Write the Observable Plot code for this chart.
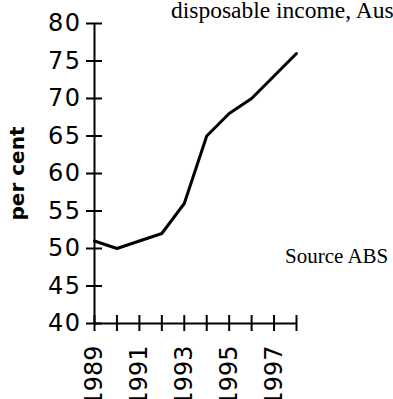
<!DOCTYPE html>
<html>
<head>
<meta charset="utf-8">
<script src="https://cdn.jsdelivr.net/npm/d3@7"></script>
<script src="https://cdn.jsdelivr.net/npm/@observablehq/plot@0.6"></script>
<style>
  html, body { margin: 0; padding: 0; background: #fff; overflow: hidden; width: 393px; height: 399px; }
  #wrap { position: relative; width: 393px; height: 399px; overflow: hidden; }
  #title { position: absolute; left: 171px; top: -2px; font-family: "Liberation Serif", serif; font-size: 23.5px; white-space: nowrap; color: #000; line-height: 24px; }
  #source { position: absolute; left: 285px; top: 244px; font-family: "Liberation Serif", serif; font-size: 21px; white-space: nowrap; color: #000; }
  svg text { font-family: "DejaVu Sans", sans-serif; }
  svg g[aria-label="y-axis tick label"] text { letter-spacing: 1.5px; }
</style>
</head>
<body>
<div id="wrap">
  <div id="chart"></div>
  <div id="title">disposable income, Australia</div>
  <div id="source">Source ABS</div>
</div>
<script>
const years = [1989, 1990, 1991, 1992, 1993, 1994, 1995, 1996, 1997, 1998];
const values = [51, 50, 51, 52, 56, 65, 68, 70, 73, 76];
const yTicks = [40, 45, 50, 55, 60, 65, 70, 75, 80];
const xLabelYears = [1989, 1991, 1993, 1995, 1997];
const yTitle = "per cent";

const data = years.map((y, i) => ({year: y, value: values[i]}));

const chart = Plot.plot({
  width: 393,
  height: 399,
  marginLeft: 94,
  marginRight: 97,
  marginTop: 23,
  marginBottom: 76,
  x: {domain: [1989, 1998]},
  y: {domain: [40, 80]},
  style: {background: "white", color: "black"},
  marks: [
    Plot.axisY({ticks: yTicks, tickSize: 8, tickPadding: 5, fontSize: 24, strokeWidth: 2, label: null}),
    Plot.axisY({ticks: yTicks, tickSize: -8, tickFormat: () => "", strokeWidth: 2, label: null}),
    Plot.axisX({ticks: years, tickSize: 8, tickPadding: 14, tickRotate: -90, fontSize: 24,
      tickFormat: d => xLabelYears.includes(d) ? String(d) : "", strokeWidth: 2, label: null}),
    Plot.axisX({ticks: years, tickSize: -8, tickFormat: () => "", strokeWidth: 2, label: null}),
    Plot.ruleX([1989], {strokeWidth: 2}),
    Plot.ruleY([40], {strokeWidth: 2}),
    Plot.line(data, {x: "year", y: "value", stroke: "black", strokeWidth: 3}),
    Plot.text([yTitle], {frameAnchor: "left", textAnchor: "middle", rotate: -90, dx: -77, fontSize: 20, fontWeight: "bold"})
  ]
});
document.getElementById("chart").appendChild(chart);
</script>
</body>
</html>
